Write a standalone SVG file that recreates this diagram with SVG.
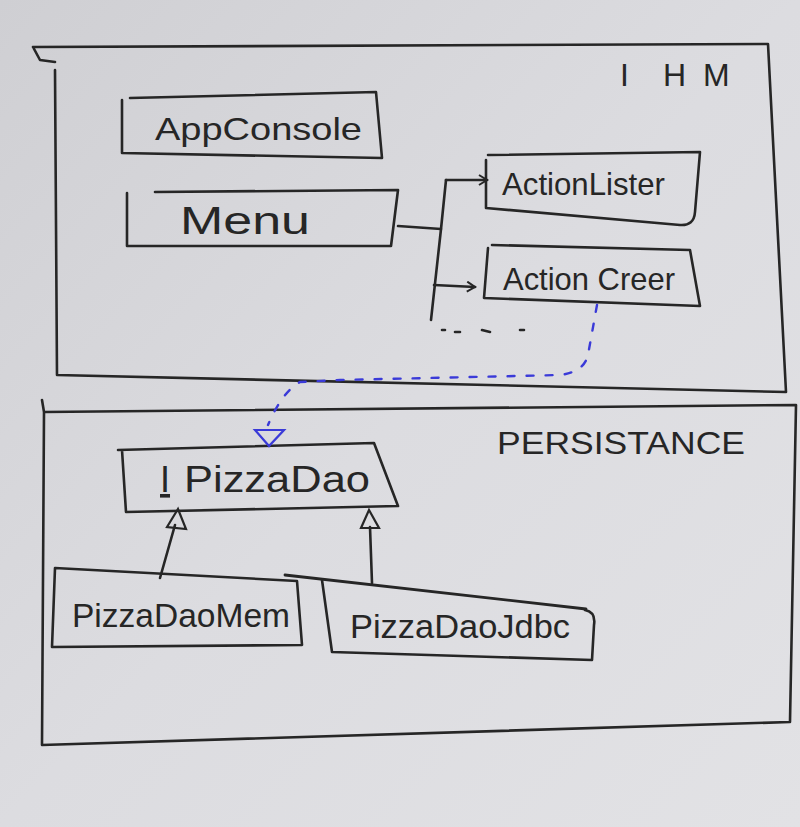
<svg xmlns="http://www.w3.org/2000/svg" width="800" height="827" viewBox="0 0 800 827">
<defs>
<linearGradient id="bg" x1="0" y1="0" x2="1" y2="1">
<stop offset="0" stop-color="#cfcfd3"/>
<stop offset="0.5" stop-color="#dcdce0"/>
<stop offset="1" stop-color="#e2e2e5"/>
</linearGradient>
<marker id="open" viewBox="0 0 12 12" refX="10" refY="6" markerWidth="12" markerHeight="12" markerUnits="userSpaceOnUse" orient="auto">
<path d="M2,1 L10,6 L2,11" fill="none" stroke="#262626" stroke-width="2"/>
</marker>
</defs>
<style>
.ln{fill:none;stroke:#262626;stroke-width:2.6;stroke-linecap:round;stroke-linejoin:round}
.bl{fill:none;stroke:#3a3ad8;stroke-width:2.4;stroke-linecap:round;stroke-dasharray:7 12}
.tx{font-family:"Liberation Sans",Arial,sans-serif;fill:#262626;font-size:32px}
.hd{font-family:"Liberation Sans",Arial,sans-serif;fill:#262626;font-size:32px}
</style>
<rect width="800" height="827" fill="url(#bg)"/>

<g id="ihm">
<path class="ln" d="M33,47 L768,44 L786,392 L57,375 L55,70 M33,47 L40,60 L55,62"/>
<text class="hd" x="620 632 663 703" y="86">I HM</text>
</g>

<g id="persistance">
<path class="ln" d="M42,400 L44,412 L796,405 L790,722 L42,745 L44,412"/>
<text class="hd" x="497" y="454" textLength="248" lengthAdjust="spacingAndGlyphs">PERSISTANCE</text>
</g>

<g id="appconsole">
<path class="ln" d="M122,100 L122,153 L382,158 L376,92 L130,98"/>
<text class="tx" x="155" y="140" textLength="207" lengthAdjust="spacingAndGlyphs">AppConsole</text>
</g>

<g id="menu">
<path class="ln" d="M127,193 L127,246 L391,246 L398,190 L155,192"/>
<text class="tx" x="180" y="234" style="font-size:38px" textLength="130" lengthAdjust="spacingAndGlyphs">Menu</text>
</g>

<g id="actionlister">
<path class="ln" d="M486,160 L486,208 L680,225 Q694,226 695,212 L700,152 L488,155"/>
<text class="tx" x="502" y="195" textLength="163" lengthAdjust="spacingAndGlyphs">ActionLister</text>
</g>

<g id="actioncreer">
<path class="ln" d="M488,248 L484,298 L700,306 L690,250 L492,245"/>
<text class="tx" x="503" y="290" textLength="172" lengthAdjust="spacingAndGlyphs">Action Creer</text>
</g>

<g id="ipizzadao">
<path class="ln" d="M118,450 L374,443 L398,506 L126,512 L122,450"/>
<text class="tx" x="160" y="492" style="font-size:36px;text-decoration:underline">I</text>
<text class="tx" x="184" y="492" style="font-size:36px" textLength="186" lengthAdjust="spacingAndGlyphs">PizzaDao</text>
</g>

<g id="pizzadaomem">
<path class="ln" d="M55,568 L297,581 L302,645 L52,647 L55,568"/>
<text class="tx" x="72" y="627" style="font-size:34px" textLength="218" lengthAdjust="spacingAndGlyphs">PizzaDaoMem</text>
</g>

<g id="pizzadaojdbc">
<line x1="285" y1="575" x2="586" y2="609" stroke="#262626" stroke-width="2.8" stroke-linecap="round"/>
<path class="ln" d="M585,610 Q596,612 594,625 L592,660 L332,652 L322,580"/>
<text class="tx" x="350" y="638" style="font-size:34px" textLength="220" lengthAdjust="spacingAndGlyphs">PizzaDaoJdbc</text>
</g>

<g id="connectors">
<path class="ln" d="M398,226 L441,229"/>
<path class="ln" d="M446,180 L441,229 L431,320"/>
<path class="ln" d="M446,180 L487,180" marker-end="url(#open)"/>
<path class="ln" d="M434,285 L475,287" marker-end="url(#open)"/>
<path class="ln" d="M442,330 L445,330 M455,332 L460,332 M482,330 L490,332 M520,330 L524,330"/>
<path class="bl" d="M597,305 L588,355 Q584,372 560,375 L340,380 L300,382 Q282,392 268,425"/>
<path d="M255,430 L284,430 L269,446 Z" fill="none" stroke="#3a3ad8" stroke-width="2.2"/>
<path class="ln" d="M160,578 L175,525"/>
<path d="M167,527 L178,509 L186,529 Z" fill="none" stroke="#262626" stroke-width="2.2"/>
<path class="ln" d="M372,583 L370,527"/>
<path d="M361,528 L369,510 L379,528 Z" fill="none" stroke="#262626" stroke-width="2.2"/>
</g>
</svg>
